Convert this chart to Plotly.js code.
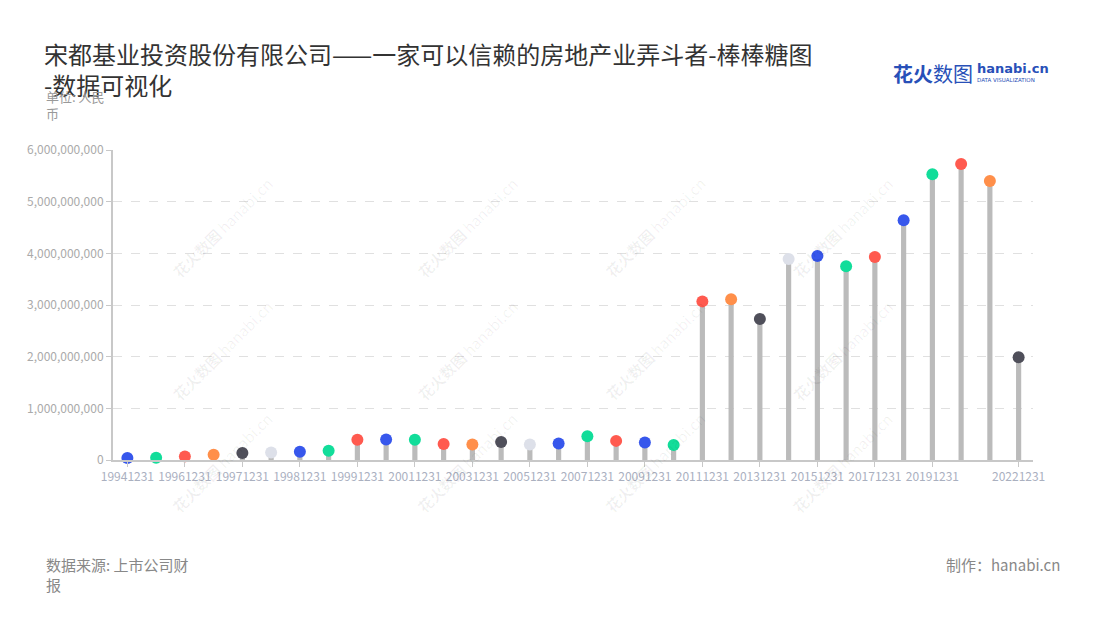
<!DOCTYPE html>
<html>
<head>
<meta charset="utf-8">
<script src="https://cdn.plot.ly/plotly-3.0.1.min.js"></script>
<style>html,body{margin:0;padding:0;background:#fff;}#chart{width:1100px;height:620px;}</style>
</head>
<body>
<div id="chart"></div>
<script>
const categories = ["19941231","19951231","19961231","19970630","19971231","19980630","19981231","19990630","19991231","20001231","20011231","20021231","20031231","20041231","20051231","20061231","20071231","20081231","20091231","20101231","20111231","20121231","20131231","20141231","20151231","20161231","20171231","20181231","20191231","20201231","20211231","20221231"];
const values = [40e6,45e6,70e6,100e6,135e6,145e6,160e6,180e6,390e6,395e6,390e6,310e6,300e6,350e6,300e6,320e6,460e6,370e6,340e6,290e6,3070e6,3110e6,2730e6,3890e6,3950e6,3750e6,3930e6,4640e6,5530e6,5730e6,5400e6,1990e6];
const dotColors = ["#3757ec","#12dd9a","#ff5a4f","#ff8f4a","#4f4f5a","#dde0e9","#3757ec","#12dd9a","#ff5a4f","#3757ec","#12dd9a","#ff5a4f","#ff8f4a","#4f4f5a","#dde0e9","#3757ec","#12dd9a","#ff5a4f","#3757ec","#12dd9a","#ff5a4f","#ff8f4a","#4f4f5a","#dde0e9","#3757ec","#12dd9a","#ff5a4f","#3757ec","#12dd9a","#ff5a4f","#ff8f4a","#4f4f5a"];
const tickLabels = ["19941231","19961231","19971231","19981231","19991231","20011231","20031231","20051231","20071231","20091231","20111231","20131231","20151231","20171231","20191231","20221231"];
const yTicks = [0,1e9,2e9,3e9,4e9,5e9,6e9];

const F = '"Noto Sans CJK SC","Noto Sans",sans-serif';

const traces = [
  {type:'bar', x:categories, y:values, width:0.18, marker:{color:'#bbbbbb'}, hoverinfo:'skip', showlegend:false},
  {type:'scatter', mode:'markers', x:categories, y:values, marker:{color:dotColors, size:12}, showlegend:false, cliponaxis:false}
];

const annotations = [
  {xref:'paper', yref:'paper', x:-0.075, y:1.21, xanchor:'left', yanchor:'top', align:'left', showarrow:false,
   text:'单位: 人民<br>币', font:{family:F, size:13, color:'#999'}},
  {xref:'paper', yref:'paper', x:-0.075, y:-0.297, xanchor:'left', yanchor:'top', align:'left', showarrow:false,
   text:'数据来源: 上市公司财<br>报', font:{family:F, size:15, color:'#888'}},
  {xref:'paper', yref:'paper', x:1.032, y:-0.297, xanchor:'right', yanchor:'top', align:'right', showarrow:false,
   text:'制作：hanabi.cn', font:{family:F, size:15, color:'#888'}},
  {xref:'paper', yref:'paper', x:0.846, y:1.248, xanchor:'left', yanchor:'middle', showarrow:false,
   text:'<b>花火</b>数图', font:{family:F, size:20, color:'#2850b8'}},
  {xref:'paper', yref:'paper', x:0.937, y:1.262, xanchor:'left', yanchor:'middle', showarrow:false,
   text:'<b>hanabi.cn</b>', font:{family:'DejaVu Sans', size:13, color:'#2850b8'}},
  {xref:'paper', yref:'paper', x:0.937, y:1.226, xanchor:'left', yanchor:'middle', showarrow:false,
   text:'DATA VISUALIZATION', font:{family:'DejaVu Sans', size:5.5, color:'#2850b8'}}
];

// faint watermarks
const wmX = [165, 410, 655, 900];
const wmY = [170, 350, 520];
wmY.forEach(py => wmX.forEach(px => {
  annotations.push({xref:'paper', yref:'paper', x:(px-113)/920, y:(460-py)/310, showarrow:false, textangle:-45,
    text:'<b>花火数图</b> hanabi.cn', font:{family:F, size:15, color:'rgba(0,0,0,0.06)'}});
}));

const layout = {
  width:1100, height:620,
  margin:{l:113, r:67, t:150, b:160},
  paper_bgcolor:'#fff', plot_bgcolor:'#fff',
  title:{text:'宋都基业投资股份有限公司——一家可以信赖的房地产业弄斗者-棒棒糖图<br>-数据可视化', x:0.04, xanchor:'left', y:0.897, yanchor:'top',
    font:{family:F, size:24, color:'#333'}},
  xaxis:{type:'category', range:[-0.5,31.5], tickvals:tickLabels, ticktext:tickLabels,
    showline:true, linecolor:'#c8c8c8', linewidth:2, ticks:'outside', ticklen:5, tickcolor:'#c8c8c8',
    showgrid:false, zeroline:false, tickangle:0, tickfont:{family:F, size:12, color:'#aab0bf'}},
  yaxis:{range:[0,6e9], tickvals:yTicks, tickformat:',d', showline:true, linecolor:'#c8c8c8', linewidth:2,
    ticks:'outside', ticklen:5, tickcolor:'#c8c8c8', showgrid:true, gridcolor:'#e0e0e0', griddash:'dash',
    zeroline:false, tickfont:{family:F, size:12, color:'#aaa'}},
  annotations:annotations,
  bargap:0.5
};

Plotly.newPlot('chart', traces, layout, {displayModeBar:false, responsive:false});
</script>
</body>
</html>
